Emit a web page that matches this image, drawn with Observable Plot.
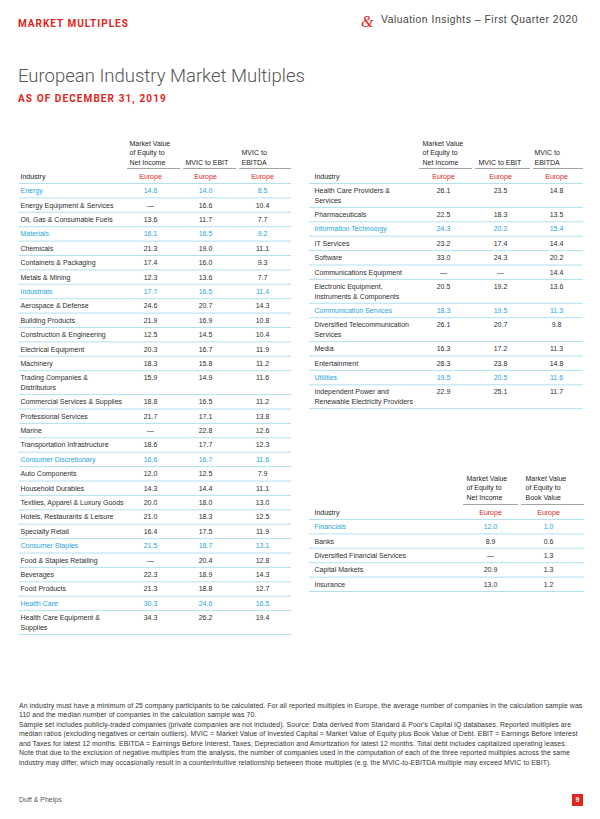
<!DOCTYPE html>
<html><head><meta charset="utf-8">
<script src="https://cdn.jsdelivr.net/npm/d3@7"></script>
<script src="https://cdn.jsdelivr.net/npm/@observablehq/plot@0.6"></script>
<style>
html,body{margin:0;padding:0;background:#fff;}
#page{position:relative;width:600px;height:819px;overflow:hidden;font-family:"Liberation Sans",Arial,sans-serif;color:#333;background:#fff;}
.abs{position:absolute;white-space:nowrap;}
#kicker{left:18px;top:18.6px;font:700 10px/10px Roboto,"Liberation Sans",sans-serif;letter-spacing:1px;color:#e1251b;}
#amp{left:361px;top:13.6px;font:italic 16px/16px "Liberation Serif",serif;color:#e1251b;}
#pub{left:381px;top:15.3px;font:10.3px/10.3px "Liberation Sans",sans-serif;letter-spacing:0.55px;color:#444;}
#title{left:18px;top:67.4px;font:300 18.5px/18.5px Roboto,sans-serif;color:#555;}
#subtitle{left:18px;top:93.6px;font:700 10px/10px Roboto,sans-serif;letter-spacing:1.1px;color:#e1251b;}
#chart{position:absolute;left:0;top:130px;}
#notes{left:19px;top:700.5px;font:6.9px/9.5px "Liberation Sans",sans-serif;letter-spacing:0.08px;color:#333;}
#footer{left:19px;top:795px;font:7px/10px "Liberation Sans",sans-serif;color:#555;}
#pagenum{left:572px;top:794px;width:11px;height:12px;background:#e1251b;color:#fff;font:700 7px/12px "Liberation Sans",sans-serif;text-align:center;}
</style></head>
<body><div id="page">
<div class="abs" id="kicker"></div>
<div class="abs" id="amp">&amp;</div>
<div class="abs" id="pub"></div>
<div class="abs" id="title"></div>
<div class="abs" id="subtitle"></div>
<div id="chart"></div>
<div class="abs" id="notes"></div>
<div class="abs" id="footer"></div>
<div class="abs" id="pagenum"></div>
</div>
<script>
// ---------- text ----------
const kicker = "MARKET MULTIPLES";
const publication = "Valuation Insights – First Quarter 2020";
const pageTitle = "European Industry Market Multiples";
const pageSubtitle = "AS OF DECEMBER 31, 2019";
const rowHeader = "Industry";
const regionLabel = "Europe";
const mainHeaders = ["Market Value\nof Equity to\nNet Income", "MVIC to EBIT", "MVIC to\nEBITDA"];
const finHeaders = ["Market Value\nof Equity to\nNet Income", "Market Value\nof Equity to\nBook Value"];
const noteLines = [
  "An industry must have a minimum of 25 company participants to be calculated. For all reported multiples in Europe, the average number of companies in the calculation sample was",
  "110 and the median number of companies in the calculation sample was 70.",
  "Sample set includes publicly-traded companies (private companies are not included). Source: Data derived from Standard & Poor's Capital IQ databases. Reported multiples are",
  "median ratios (excluding negatives or certain outliers). MVIC = Market Value of Invested Capital = Market Value of Equity plus Book Value of Debt. EBIT = Earnings Before Interest",
  "and Taxes for latest 12 months. EBITDA = Earnings Before Interest, Taxes, Depreciation and Amortization for latest 12 months. Total debt includes capitalized operating leases.",
  "Note that due to the exclusion of negative multiples from the analysis, the number of companies used in the computation of each of the three reported multiples across the same",
  "industry may differ, which may occasionally result in a counterintuitive relationship between those multiples (e.g. the MVIC-to-EBITDA multiple may exceed MVIC to EBIT)."
];
const footerText = "Duff & Phelps";
const pageNumber = "9";

// ---------- data ----------
const sectors = ["Energy","Materials","Industrials","Consumer Discretionary","Consumer Staples","Health Care","Information Technology","Communication Services","Utilities","Financials"];

const leftIndustries = ["Energy","Energy Equipment & Services","Oil, Gas & Consumable Fuels","Materials","Chemicals","Containers & Packaging","Metals & Mining","Industrials","Aerospace & Defense","Building Products","Construction & Engineering","Electrical Equipment","Machinery","Trading Companies &\nDistributors","Commercial Services & Supplies","Professional Services","Marine","Transportation Infrastructure","Consumer Discretionary","Auto Components","Household Durables","Textiles, Apparel & Luxury Goods","Hotels, Restaurants & Leisure","Specialty Retail","Consumer Staples","Food & Staples Retailing","Beverages","Food Products","Health Care","Health Care Equipment &\nSupplies"];
const leftEquityToNetIncome = [14.6,null,13.6,16.1,21.3,17.4,12.3,17.7,24.6,21.9,12.5,20.3,18.3,15.9,18.8,21.7,null,18.6,16.6,12.0,14.3,20.0,21.0,16.4,21.5,null,22.3,21.3,30.3,34.3];
const leftMvicToEbit = [14.0,16.6,11.7,16.5,19.0,16.0,13.6,16.5,20.7,16.9,14.5,16.7,15.8,14.9,16.5,17.1,22.8,17.7,16.7,12.5,14.4,18.0,18.3,17.5,18.7,20.4,18.9,18.8,24.6,26.2];
const leftMvicToEbitda = [8.5,10.4,7.7,9.2,11.1,9.3,7.7,11.4,14.3,10.8,10.4,11.9,11.2,11.6,11.2,13.8,12.6,12.3,11.6,7.9,11.1,13.0,12.5,11.9,13.1,12.8,14.3,12.7,16.5,19.4];

const rightIndustries = ["Health Care Providers &\nServices","Pharmaceuticals","Information Technology","IT Services","Software","Communications Equipment","Electronic Equipment,\nInstruments & Components","Communication Services","Diversified Telecommunication\nServices","Media","Entertainment","Utilities","Independent Power and\nRenewable Electricity Providers"];
const rightEquityToNetIncome = [26.1,22.5,24.3,23.2,33.0,null,20.5,18.3,26.1,16.3,28.3,19.5,22.9];
const rightMvicToEbit = [23.5,18.3,20.2,17.4,24.3,null,19.2,19.5,20.7,17.2,23.8,20.5,25.1];
const rightMvicToEbitda = [14.8,13.5,15.4,14.4,20.2,14.4,13.6,11.3,9.8,11.3,14.8,11.6,11.7];

const finIndustries = ["Financials","Banks","Diversified Financial Services","Capital Markets","Insurance"];
const finEquityToNetIncome = [12.0,8.9,null,20.9,13.0];
const finEquityToBook = [1.0,0.6,1.3,1.3,1.2];

// ---------- layout & style ----------
const RED = "#e1251b", BLUE = "#1ea5dc", BODY = "#2e2e2e", HEAD = "#1e1e1e";
const BLUE_LINE = "#a9dcf0", GRAY_LINE = "#9a9a9a";
const ROW = 14.4, LINE = 9.5, OFF = 7.4, FONT = 7;
const SVG_TOP = 130, SVG_H = 515;
const layout = {
  left:  {x1:19,  x2:291, labelX:20,  colX:[150,205,262], headX:[129,185,241], segs:[[127,180],[183,236],[239,291]], headBaseY:162, segY:168, europeY:176, bodyTop:183},
  right: {x1:309, x2:583, labelX:314, colX:[443,500,556], headX:[422,478,534], segs:[[419,472],[475,530],[533,583]], headBaseY:162, segY:168, europeY:176, bodyTop:183},
  fin:   {x1:309, x2:584, labelX:314, colX:[490,548],     headX:[466,525],     segs:[[463,518],[521,584]],             headBaseY:497, segY:504, europeY:512, bodyTop:519}
};

const startText = [], midText = [], rules = [];
function buildTable(spec, industries, series, headers) {
  headers.forEach((h, j) => {
    const lines = h.split("\n");
    lines.forEach((ln, k) => startText.push({x: spec.headX[j], y: spec.headBaseY - (lines.length - 1 - k) * LINE, text: ln, fill: HEAD}));
    rules.push({y: spec.segY, x1: spec.segs[j][0], x2: spec.segs[j][1], stroke: GRAY_LINE});
    midText.push({x: spec.colX[j], y: spec.europeY, text: regionLabel, fill: RED});
  });
  startText.push({x: spec.labelX, y: spec.europeY, text: rowHeader, fill: HEAD});
  rules.push({y: spec.bodyTop, x1: spec.x1, x2: spec.x2, stroke: BLUE_LINE});
  let top = spec.bodyTop;
  industries.forEach((name, i) => {
    const lines = name.split("\n");
    const fill = sectors.includes(name) ? BLUE : BODY;
    lines.forEach((ln, k) => startText.push({x: spec.labelX, y: top + OFF + k * LINE, text: ln, fill}));
    series.forEach((vals, j) => midText.push({x: spec.colX[j], y: top + OFF, text: vals[i] == null ? "—" : vals[i].toFixed(1), fill}));
    top += ROW + (lines.length - 1) * LINE;
    rules.push({y: top, x1: spec.x1, x2: spec.x2, stroke: BLUE_LINE});
  });
}
buildTable(layout.left, leftIndustries, [leftEquityToNetIncome, leftMvicToEbit, leftMvicToEbitda], mainHeaders);
buildTable(layout.right, rightIndustries, [rightEquityToNetIncome, rightMvicToEbit, rightMvicToEbitda], mainHeaders);
buildTable(layout.fin, finIndustries, [finEquityToNetIncome, finEquityToBook], finHeaders);

const chart = Plot.plot({
  width: 600, height: SVG_H,
  marginTop: 0, marginRight: 0, marginBottom: 0, marginLeft: 0,
  x: {domain: [0, 600], range: [0, 600], axis: null},
  y: {domain: [SVG_TOP, SVG_TOP + SVG_H], range: [0, SVG_H], axis: null},
  color: {type: "identity"},
  style: {fontFamily: "'Liberation Sans', Arial, sans-serif", background: "transparent"},
  marks: [
    Plot.ruleY(rules, {y: "y", x1: "x1", x2: "x2", stroke: "stroke", strokeWidth: 0.9}),
    Plot.text(startText, {x: "x", y: "y", text: "text", fill: "fill", textAnchor: "start", fontSize: FONT, lineAnchor: "middle"}),
    Plot.text(midText, {x: "x", y: "y", text: "text", fill: "fill", textAnchor: "middle", fontSize: FONT, lineAnchor: "middle"})
  ]
});
document.getElementById("chart").appendChild(chart);

document.getElementById("kicker").textContent = kicker;
document.getElementById("pub").textContent = publication;
document.getElementById("title").textContent = pageTitle;
document.getElementById("subtitle").textContent = pageSubtitle;
document.getElementById("notes").innerHTML = noteLines.map(l => `<div>${l.replace(/&/g, "&amp;")}</div>`).join("");
document.getElementById("footer").textContent = footerText;
document.getElementById("pagenum").textContent = pageNumber;
</script>
</body></html>
